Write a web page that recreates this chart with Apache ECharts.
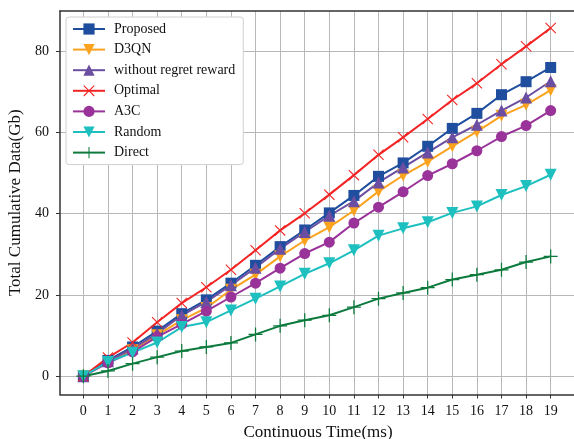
<!DOCTYPE html>
<html>
<head>
<meta charset="utf-8">
<script src="https://cdn.jsdelivr.net/npm/echarts@6/dist/echarts.min.js"></script>
<style>
  html, body { margin: 0; padding: 0; background: #fff; }
  #chart { width: 574px; height: 439px; }
</style>
</head>
<body>
<div id="chart"></div>
<script>
// ── data ──
const timeSteps = [0, 1, 2, 3, 4, 5, 6, 7, 8, 9, 10, 11, 12, 13, 14, 15, 16, 17, 18, 19]
const yTicks = [0, 20, 40, 60, 80]

const proposed = [0, 3.9, 7.2, 11.1, 15.4, 18.8, 22.9, 27.3, 31.9, 36.0, 40.2, 44.5, 49.2, 52.5, 56.6, 61.0, 64.7, 69.3, 72.5, 76.0]
const d3qn = [0, 3.5, 6.4, 10.1, 13.8, 16.8, 21.3, 25.0, 29.5, 33.4, 36.7, 40.8, 45.5, 49.4, 52.8, 56.6, 60.2, 64.1, 66.8, 70.4]
const withoutRegret = [0, 3.7, 6.8, 10.5, 15.0, 18.3, 22.4, 26.7, 31.4, 35.5, 39.5, 43.1, 47.7, 51.4, 55.1, 58.8, 61.9, 65.4, 68.6, 72.6]
const optimal = [0, 4.6, 8.3, 13.3, 18.0, 21.9, 26.2, 31.0, 35.9, 40.1, 44.7, 49.5, 54.5, 58.8, 63.3, 68.0, 72.1, 76.8, 81.2, 85.7]
const a3c = [0, 3.3, 6.0, 9.7, 12.8, 16.0, 19.5, 22.9, 26.6, 30.2, 33.0, 37.7, 41.6, 45.4, 49.4, 52.3, 55.5, 59.0, 61.7, 65.4]
const random = [0, 3.5, 5.8, 8.3, 12.1, 13.3, 16.2, 19.1, 22.1, 25.2, 27.8, 31.0, 34.6, 36.4, 37.9, 40.2, 41.8, 44.6, 46.8, 49.6]
const direct = [0, 1.3, 3.1, 4.7, 6.2, 7.2, 8.2, 10.3, 12.4, 13.8, 15.0, 17.0, 19.1, 20.5, 21.8, 23.8, 25.0, 26.2, 28.1, 29.5]

// ── marker shapes ──
const xMark = 'path://M0,1.4L1.4,0L10,8.6L18.6,0L20,1.4L11.4,10L20,18.6L18.6,20L10,11.4L1.4,20L0,18.6L8.6,10Z'
const plusMark = 'path://M9.1,0H10.9V9.1H20V10.9H10.9V20H9.1V10.9H0V9.1H9.1Z'

const FONT = 'Liberation Serif'

function mk(name, data, color, symbol, size, rotate) {
  return {
    name,
    type: 'line',
    data: data.map((v, i) => [timeSteps[i], v]),
    symbol,
    symbolSize: size,
    symbolRotate: rotate || 0,
    lineStyle: { color, width: 2 },
    itemStyle: { color },
  }
}

const chart = echarts.init(document.getElementById('chart'))
chart.setOption({
  animation: false,
  backgroundColor: '#fff',
  // plot runs slightly past the right edge, like the cropped original
  grid: { left: 60, right: -2, top: 11, bottom: 44.5, outerBoundsMode: 'none', containLabel: false },
  legend: {
    orient: 'vertical',
    left: 66,
    top: 17,
    padding: [5, 8, 5, 6],
    itemWidth: 32,
    itemHeight: 14,
    itemGap: 6.6,
    backgroundColor: '#fff',
    borderColor: '#d0d0d0',
    borderWidth: 1,
    borderRadius: 3,
    textStyle: { fontFamily: FONT, fontSize: 14, color: '#111', padding: [0, 0, 0, 4] },
  },
  xAxis: [{
    type: 'value',
    min: -0.95,
    max: 20.03,
    name: 'Continuous Time(ms)',
    nameLocation: 'middle',
    nameGap: 30,
    nameTextStyle: { fontFamily: FONT, fontSize: 17, color: '#111' },
    axisLine: { show: true, onZero: false, lineStyle: { color: '#333', width: 1.5 } },
    axisTick: { show: true, inside: false, length: 4, customValues: timeSteps, lineStyle: { color: '#333' } },
    axisLabel: { customValues: timeSteps, fontFamily: FONT, fontSize: 14, color: '#111', margin: 10 },
    splitLine: { show: true, lineStyle: { color: '#b8b8b8', width: 1 } },
  }, {
    // top frame line
    type: 'value', position: 'top', min: -0.95, max: 20.03,
    axisLine: { show: true, onZero: false, lineStyle: { color: '#333', width: 1.5 } },
    axisTick: { show: false },
    axisLabel: { show: false },
    splitLine: { show: false },
  }],
  yAxis: {
    type: 'value',
    min: -4.5,
    max: 89.9,
    name: 'Total Cumulative Data(Gb)',
    nameLocation: 'middle',
    nameGap: 36,
    nameTextStyle: { fontFamily: FONT, fontSize: 17, color: '#111' },
    axisLine: { show: true, onZero: false, lineStyle: { color: '#333', width: 1.5 } },
    axisTick: { show: true, inside: false, length: 4, customValues: yTicks, lineStyle: { color: '#333' } },
    axisLabel: { customValues: yTicks, fontFamily: FONT, fontSize: 14, color: '#111', margin: 11 },
    splitLine: { show: true, lineStyle: { color: '#b8b8b8', width: 1 } },
  },
  series: [
    mk('Proposed', proposed, '#1f4e9e', 'rect', 11),
    mk('D3QN', d3qn, '#fba31f', 'triangle', 12, 180),
    mk('without regret reward', withoutRegret, '#6b4ea2', 'triangle', 12),
    mk('Optimal', optimal, '#f42424', xMark, 11),
    mk('A3C', a3c, '#9a3399', 'circle', 11),
    mk('Random', random, '#1dbfbf', 'triangle', 12, 180),
    mk('Direct', direct, '#0b7a3c', plusMark, 14),
  ],
})
</script>
</body>
</html>
